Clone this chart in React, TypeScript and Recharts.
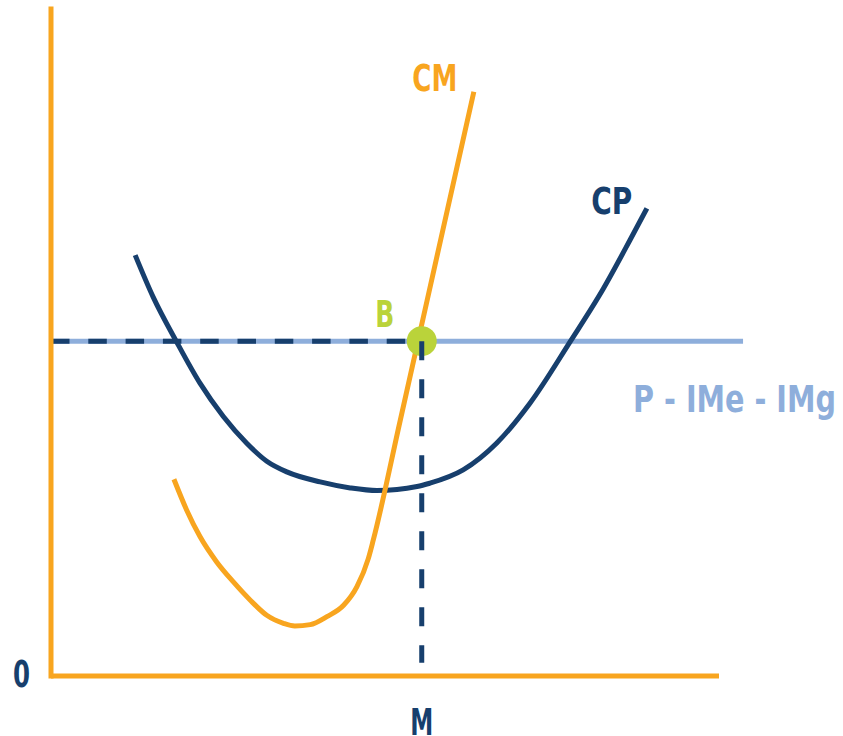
import {
  LineChart,
  Line,
  XAxis,
  YAxis,
  ReferenceLine,
  ReferenceDot,
} from "recharts";

const ORANGE = "#F8A51F";
const NAVY = "#173F6D";
const LIGHT_BLUE = "#8EAEDB";
const GREEN = "#BAD33A";
const FONT = "'DejaVu Sans Condensed', 'DejaVu Sans', sans-serif";

// CM: costo marginal
const cmQty = [18.4, 20.3, 22.3, 24.8, 27.3, 29.8, 32.3, 34.8, 36.5, 38.8, 41.3, 43.8, 45.8, 47.5, 48.25, 52.3, 58.0, 63.3];
const cmCost = [29.5, 24.9, 20.9, 17.1, 14.1, 11.4, 9.1, 7.9, 7.5, 7.7, 8.9, 10.6, 13.4, 17.6, 20.4, 38.4, 63.9, 87.6];

// CP: costo promedio
const cpQty = [12.6, 15.3, 18.8, 22.3, 25.8, 29.3, 32.3, 35.3, 40.3, 44.8, 48.8, 54.8, 56.7, 61.7, 66.7, 71.7, 77.7, 82.7, 86.7, 89.2];
const cpCost = [63.1, 56.8, 50.1, 43.9, 38.9, 34.9, 32.2, 30.6, 29.1, 28.2, 27.8, 28.4, 28.9, 30.9, 34.9, 40.9, 50.1, 58.1, 65.4, 70.1];

// P = IMe = IMg
const price = 50.2;
const priceLineEnd = 103.6;
const outputQty = 55.5;
const outputFloor = 2;

const xTickLabels = ["M"];
const yTickLabels = ["0"];

const cmData = cmQty.map((x, i) => ({ x, y: cmCost[i] }));
const cpData = cpQty.map((x, i) => ({ x, y: cpCost[i] }));

const center = (p: any) => {
  const vb = p.viewBox ?? p;
  return {
    cx: (vb.x ?? p.x) + (vb.width ?? 0) / 2,
    cy: (vb.y ?? p.y) + (vb.height ?? 0) / 2,
  };
};

const Txt = ({ x, y, color, width, anchor = "middle", children }: any) => (
  <text
    x={x}
    y={y}
    fill={color}
    fontFamily={FONT}
    fontWeight="bold"
    fontSize={38}
    textAnchor={anchor}
    textLength={width}
    lengthAdjust="spacingAndGlyphs"
  >
    {children}
  </text>
);

const textLabel =
  (text: string, color: string, width: number, dx: number, dy: number) =>
  (p: any) => {
    const { cx, cy } = center(p);
    return (
      <Txt x={cx + dx} y={cy + dy} color={color} width={width}>
        {text}
      </Txt>
    );
  };

const priceLabel = (p: any) => {
  const vb = p.viewBox;
  return (
    <Txt x={vb.x + vb.width - 8.5} y={vb.y + 70.5} color={LIGHT_BLUE} width={203}>
      P - IMe - IMg
    </Txt>
  );
};

const XTick = ({ x, y }: any) => (
  <Txt x={x} y={y + 59} color={NAVY} width={23}>
    {xTickLabels[0]}
  </Txt>
);

const YTick = ({ x, y }: any) => (
  <Txt x={x - 21} y={y + 10.7} color={NAVY} width={17} anchor="end">
    {yTickLabels[0]}
  </Txt>
);

export default function App() {
  const cmEnd = cmData[cmData.length - 1];
  const cpEnd = cpData[cpData.length - 1];
  return (
    <div style={{ position: "absolute", left: 0, top: 0, background: "#fff" }}>
      <LineChart width={843} height={736} margin={{ top: 9, right: 124, bottom: 0, left: 0 }}>
        <XAxis
          type="number"
          dataKey="x"
          domain={[0, 100]}
          ticks={[outputQty]}
          tick={<XTick />}
          tickLine={false}
          tickSize={0}
          tickMargin={0}
          height={60}
          axisLine={{ stroke: ORANGE, strokeWidth: 5 }}
        />
        <YAxis
          type="number"
          domain={[0, 100]}
          ticks={[0]}
          tick={<YTick />}
          tickLine={false}
          tickSize={0}
          tickMargin={0}
          width={51}
          axisLine={{ stroke: ORANGE, strokeWidth: 5, strokeLinecap: "square" }}
        />
        <ReferenceLine
          segment={[{ x: 0, y: price }, { x: priceLineEnd, y: price }]}
          stroke={LIGHT_BLUE}
          strokeWidth={5}
          ifOverflow="visible"
          label={priceLabel}
          zIndex={100}
        />
        <ReferenceLine
          segment={[{ x: 0, y: price }, { x: outputQty, y: price }]}
          stroke={NAVY}
          strokeWidth={5}
          strokeDasharray="18.5 18.8"
          ifOverflow="visible"
          zIndex={110}
        />
        <Line
          data={cpData}
          dataKey="y"
          type="monotone"
          stroke={NAVY}
          strokeWidth={5}
          dot={false}
          activeDot={false}
          isAnimationActive={false}
          zIndex={400}
        />
        <Line
          data={cmData}
          dataKey="y"
          type="monotone"
          stroke={ORANGE}
          strokeWidth={5}
          dot={false}
          activeDot={false}
          isAnimationActive={false}
          zIndex={410}
        />
        <ReferenceDot x={cmEnd.x} y={cmEnd.y} r={0} fill="none" stroke="none" label={textLabel("CM", ORANGE, 45, -39, -1)} zIndex={2000} />
        <ReferenceDot x={cpEnd.x} y={cpEnd.y} r={0} fill="none" stroke="none" label={textLabel("CP", NAVY, 41, -35, 6)} zIndex={2000} />
        <ReferenceDot
          x={outputQty}
          y={price}
          r={15}
          fill={GREEN}
          stroke="none"
          label={textLabel("B", GREEN, 19, -37, -14.5)}
          zIndex={1000}
        />
        <ReferenceLine
          segment={[{ x: outputQty, y: price }, { x: outputQty, y: outputFloor }]}
          stroke={NAVY}
          strokeWidth={5}
          strokeDasharray="19 19"
          ifOverflow="visible"
          zIndex={1100}
        />
      </LineChart>
    </div>
  );
}
